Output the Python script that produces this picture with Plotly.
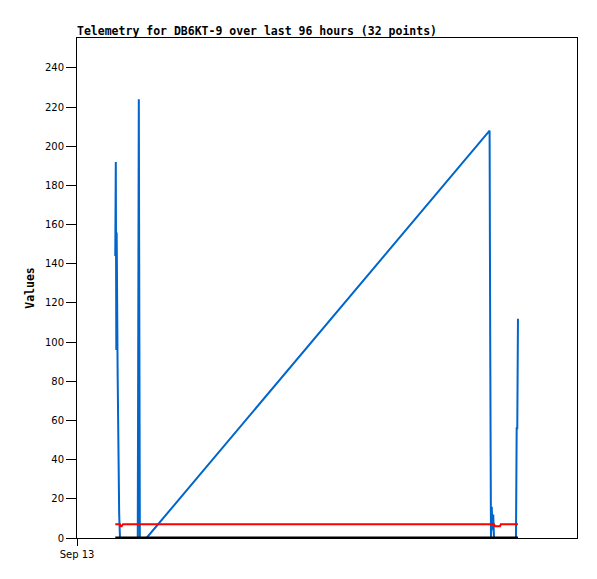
import plotly.graph_objects as go

# Timestamps (32 points)
times = [
    "2023-09-13 07:21", "2023-09-13 07:27", "2023-09-13 07:33", "2023-09-13 07:37",
    "2023-09-13 07:48", "2023-09-13 07:55", "2023-09-13 08:06", "2023-09-13 08:15",
    "2023-09-13 08:25", "2023-09-13 08:34", "2023-09-13 08:50", "2023-09-13 11:40",
    "2023-09-13 11:46", "2023-09-13 11:52", "2023-09-13 11:58", "2023-09-13 12:04",
    "2023-09-13 13:21", "2023-09-16 07:13", "2023-09-16 07:20", "2023-09-16 07:29",
    "2023-09-16 07:38", "2023-09-16 07:45", "2023-09-16 07:55", "2023-09-16 08:04",
    "2023-09-16 08:15", "2023-09-16 09:13", "2023-09-16 09:22", "2023-09-16 11:31",
    "2023-09-16 12:17", "2023-09-16 12:25", "2023-09-16 12:32", "2023-09-16 12:40",
]
blue_values = [144, 192, 96, 156, 84, 36, 12, 0, 0, 0, 0, 0, 112, 224, 112, 0,
               0, 208, 104, 0, 16, 4, 12, 0, 0, 0, 0, 0, 0, 56, 56, 112]
red_values = [7, 7, 7, 7, 7, 7, 7, 7, 6, 6, 7, 7, 7, 7, 7, 7,
              7, 7, 7, 7, 7, 7, 7, 7, 6, 6, 7, 7, 7, 7, 7, 7]
black_values = [0] * 32

x_tick_vals = ["2023-09-13 00:00"]
x_tick_text = ["Sep 13"]
x_range = ["2023-09-13 00:00", "2023-09-17 00:00"]
y_tick_vals = list(range(0, 241, 20))

W, H = 589, 571  # page body has an 8px margin

fig = go.Figure()
fig.add_trace(go.Scatter(x=times, y=blue_values, mode="lines",
                         line=dict(color="#0066CC", width=2), showlegend=False))
fig.add_trace(go.Scatter(x=times, y=red_values, mode="lines",
                         line=dict(color="#FF0000", width=2), showlegend=False))
fig.add_trace(go.Scatter(x=times, y=black_values, mode="lines",
                         line=dict(color="#000000", width=3), showlegend=False))

fig.update_layout(
    width=W, height=H,
    margin=dict(l=69, r=20, t=30, b=41, autoexpand=False),
    paper_bgcolor="white", plot_bgcolor="white",
    title=dict(text="<b>Telemetry for DB6KT-9 over last 96 hours (32 points)</b>",
               x=69 / W, xanchor="left", xref="container",
               y=1 - 23 / H, yanchor="middle", yref="container",
               automargin=False,
               font=dict(family="DejaVu Sans Mono", size=11.5, color="black")),
    font=dict(family="DejaVu Sans", size=10, color="black"),
)
fig.update_xaxes(
    type="date", range=x_range, tickvals=x_tick_vals, ticktext=x_tick_text,
    showgrid=False, zeroline=False, showline=True, linecolor="black", linewidth=1,
    mirror=True, ticks="outside", ticklen=7, tickcolor="black", automargin=False,
    tickfont=dict(family="DejaVu Sans", size=10),
)
fig.update_yaxes(
    range=[0, 255.3], tickvals=y_tick_vals, automargin=False,
    showgrid=False, zeroline=False, showline=True, linecolor="black", linewidth=1,
    mirror=True, ticks="outside", ticklen=10, tickcolor="black",
    tickfont=dict(family="DejaVu Sans", size=10),
    title=dict(text="<b>Values</b>", font=dict(family="DejaVu Sans Mono", size=11.5),
               standoff=7),
)

fig.write_html("out.html")
